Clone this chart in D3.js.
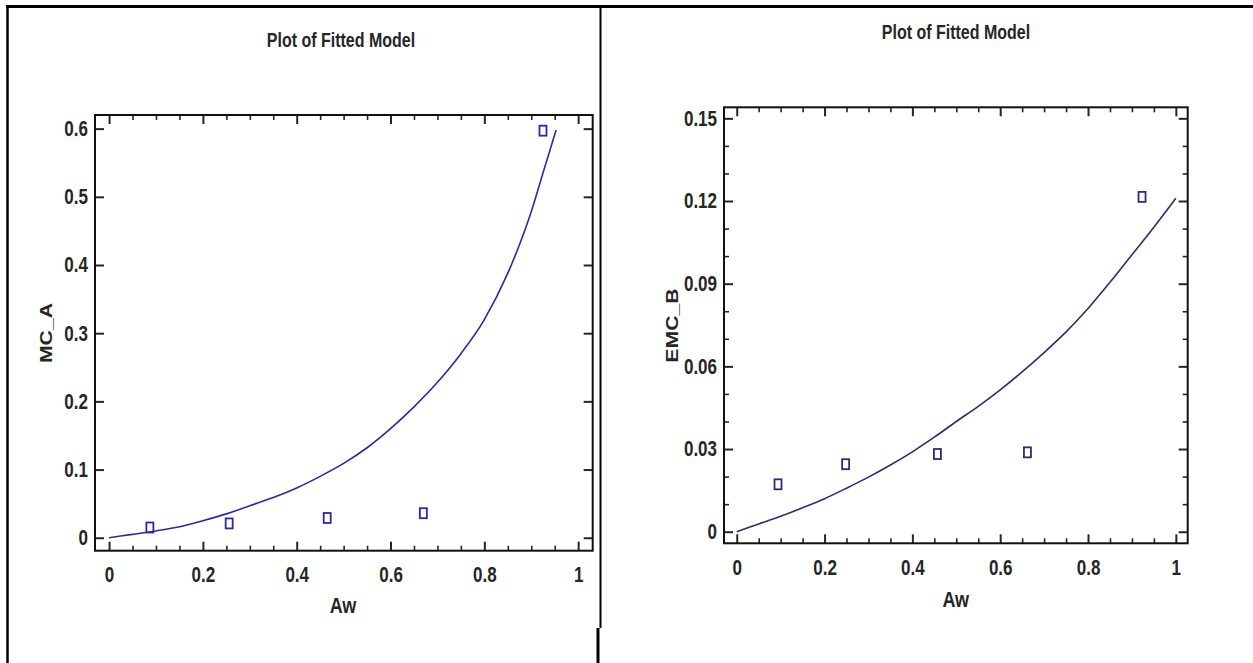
<!DOCTYPE html>
<html>
<head>
<meta charset="utf-8">
<script src="https://cdn.jsdelivr.net/npm/d3@7"></script>
<style>
  html, body { margin: 0; padding: 0; background: #fff; }
  svg { display: block; }
</style>
</head>
<body>
<svg id="chart" width="1253" height="663"></svg>
<script>
// ---- data -------------------------------------------------------------
// left panel: observed MC_A against water activity, and the fitted curve
const leftAw  = [0.087, 0.256, 0.465, 0.670, 0.925];
const leftMC  = [0.015, 0.021, 0.029, 0.036, 0.597];
const leftFitAw = [0, 0.05, 0.10, 0.15, 0.20, 0.25, 0.30, 0.35, 0.40, 0.45, 0.50,
                   0.55, 0.60, 0.65, 0.70, 0.75, 0.80, 0.85, 0.875, 0.90, 0.925, 0.953];
const leftFitMC = [0, 0.005, 0.010, 0.016, 0.025, 0.035, 0.047, 0.059, 0.073, 0.090, 0.109,
                   0.132, 0.160, 0.192, 0.228, 0.270, 0.320, 0.388, 0.430, 0.478, 0.535, 0.598];

// right panel: observed EMC_B and its fitted curve
const rightAw  = [0.094, 0.248, 0.457, 0.662, 0.923];
const rightEMC = [0.0172, 0.0245, 0.0282, 0.0288, 0.1215];
const rightFitAw  = [0, 0.05, 0.10, 0.15, 0.20, 0.25, 0.30, 0.35, 0.40, 0.45, 0.50,
                     0.55, 0.60, 0.65, 0.70, 0.75, 0.80, 0.85, 0.90, 0.95, 1.0];
const rightFitEMC = [0, 0.0028, 0.0056, 0.0087, 0.0120, 0.0158, 0.0198, 0.0242, 0.0290, 0.0343, 0.0400,
                     0.0455, 0.0515, 0.0580, 0.0650, 0.0725, 0.0810, 0.0905, 0.1005, 0.1105, 0.1210];

// tick values
const xMajor = [0, 0.2, 0.4, 0.6, 0.8, 1];
const xMinor = [0.05, 0.1, 0.15, 0.25, 0.3, 0.35, 0.45, 0.5, 0.55, 0.65, 0.7, 0.75, 0.85, 0.9, 0.95];
const leftYMajor  = [0, 0.1, 0.2, 0.3, 0.4, 0.5, 0.6];
const rightYMajor = [0, 0.03, 0.06, 0.09, 0.12, 0.15];
const rightYMinor = [0.01, 0.02, 0.04, 0.05, 0.07, 0.08, 0.10, 0.11, 0.13, 0.14];

// ---- setup ------------------------------------------------------------
const svg = d3.select("#chart");
const FONT = "'Liberation Sans', Arial, sans-serif";
const INK = "#262626";
const K = 1.25;   // text is drawn a bit taller than wide

const fmt = d => String(+d.toFixed(2));

// page frame (table borders)
const frame = svg.append("g").attr("stroke", "#000");
frame.append("line").attr("x1", 6).attr("x2", 1253).attr("y1", 6.5).attr("y2", 6.5).attr("stroke-width", 3);
frame.append("line").attr("x1", 7.5).attr("x2", 7.5).attr("y1", 5).attr("y2", 663).attr("stroke-width", 2.5);
frame.append("line").attr("x1", 600.5).attr("x2", 600.5).attr("y1", 5).attr("y2", 628).attr("stroke-width", 2);
frame.append("line").attr("x1", 598).attr("x2", 598).attr("y1", 628).attr("y2", 663).attr("stroke-width", 3);

function stretchedText(g, x, y, str, opts = {}) {
  const t = g.append("g")
    .attr("transform", `translate(${x},${y}) scale(1,${K})`)
    .append("text")
    .attr("text-anchor", opts.anchor || "middle")
    .attr("font-family", FONT)
    .attr("font-size", opts.size || 17)
    .attr("font-weight", opts.weight || "bold")
    .attr("fill", INK)
    .text(str);
  if (opts.rotate) t.attr("transform", "rotate(-90)");
  return t;
}

function drawPanel(p) {
  const g = svg.append("g");
  const x = d3.scaleLinear().domain(p.xDomain).range([p.left, p.right]);
  const y = d3.scaleLinear().domain(p.yDomain).range([p.bottom, p.top]);

  // titles
  stretchedText(g, p.titleX, p.titleY, "Plot of Fitted Model", { size: 16 });
  stretchedText(g, p.xLabelX, p.xLabelY, "Aw", { size: 18 });
  stretchedText(g, p.yLabelX, p.yLabelY, p.yLabel, { size: 17, rotate: true });

  // axes: major ticks with labels, minor ticks, mirrored on top/right
  const axes = [
    [d3.axisBottom(x).tickValues(xMajor).tickSize(-9).tickPadding(13).tickFormat(fmt), `translate(0,${p.bottom})`, 2],
    [d3.axisBottom(x).tickValues(xMinor).tickSize(-5).tickFormat(""), `translate(0,${p.bottom})`, 1.6],
    [d3.axisTop(x).tickValues(xMajor).tickSize(-9).tickFormat(""), `translate(0,${p.top})`, 2],
    [d3.axisTop(x).tickValues(xMinor).tickSize(-5).tickFormat(""), `translate(0,${p.top})`, 1.6],
    [d3.axisLeft(y).tickValues(p.yMajor).tickSize(-9).tickPadding(7).tickFormat(fmt), `translate(${p.left},0)`, 2],
    [d3.axisRight(y).tickValues(p.yMajor).tickSize(-9).tickFormat(""), `translate(${p.right},0)`, 2],
    [d3.axisLeft(y).tickValues(p.yMinor).tickSize(-5).tickFormat(""), `translate(${p.left},0)`, 1.6],
    [d3.axisRight(y).tickValues(p.yMinor).tickSize(-5).tickFormat(""), `translate(${p.right},0)`, 1.6]
  ];
  axes.forEach(([axis, tr, w]) => {
    const a = g.append("g").attr("transform", tr).attr("color", INK).call(axis);
    a.select(".domain").remove();
    a.selectAll(".tick line").attr("stroke-width", w);
    a.selectAll(".tick text")
      .attr("font-family", FONT)
      .attr("font-size", 17)
      .attr("font-weight", "bold")
      .attr("transform", `scale(1,${K})`);
  });

  // plot frame
  g.append("rect")
    .attr("x", p.left).attr("y", p.top)
    .attr("width", p.right - p.left).attr("height", p.bottom - p.top)
    .attr("fill", "none").attr("stroke", "#111").attr("stroke-width", 2);

  // fitted curve
  const fit = p.fitX.map((v, i) => [v, p.fitY[i]]);
  g.append("path")
    .datum(fit)
    .attr("fill", "none")
    .attr("stroke", p.color)
    .attr("stroke-width", 1.6)
    .attr("d", d3.line().x(d => x(d[0])).y(d => y(d[1])).curve(d3.curveMonotoneX));

  // observed points as small open squares
  const pts = p.obsX.map((v, i) => [v, p.obsY[i]]);
  g.selectAll("rect.obs")
    .data(pts)
    .join("rect")
    .attr("class", "obs")
    .attr("x", d => x(d[0]) - 3.5)
    .attr("y", d => y(d[1]) - 5)
    .attr("width", 7).attr("height", 10)
    .attr("fill", "none")
    .attr("stroke", p.color)
    .attr("stroke-width", 1.8);
}

drawPanel({
  left: 95, right: 592.7, top: 115, bottom: 550.7,
  xDomain: [-0.03, 1.031], yDomain: [-0.019, 0.62],
  yMajor: leftYMajor, yMinor: [],
  titleX: 341, titleY: 47,
  xLabelX: 343, xLabelY: 613, yLabel: "MC_A", yLabelX: 51.5, yLabelY: 333,
  fitX: leftFitAw, fitY: leftFitMC, obsX: leftAw, obsY: leftMC,
  color: "#2a2aa6"
});

drawPanel({
  left: 724, right: 1187.7, top: 107.3, bottom: 543.3,
  xDomain: [-0.029, 1.027], yDomain: [-0.0042, 0.154],
  yMajor: rightYMajor, yMinor: rightYMinor,
  titleX: 956, titleY: 39,
  xLabelX: 955.7, xLabelY: 606.7, yLabel: "EMC_B", yLabelX: 678, yLabelY: 325.5,
  fitX: rightFitAw, fitY: rightFitEMC, obsX: rightAw, obsY: rightEMC,
  color: "#2c2c78"
});
</script>
</body>
</html>
